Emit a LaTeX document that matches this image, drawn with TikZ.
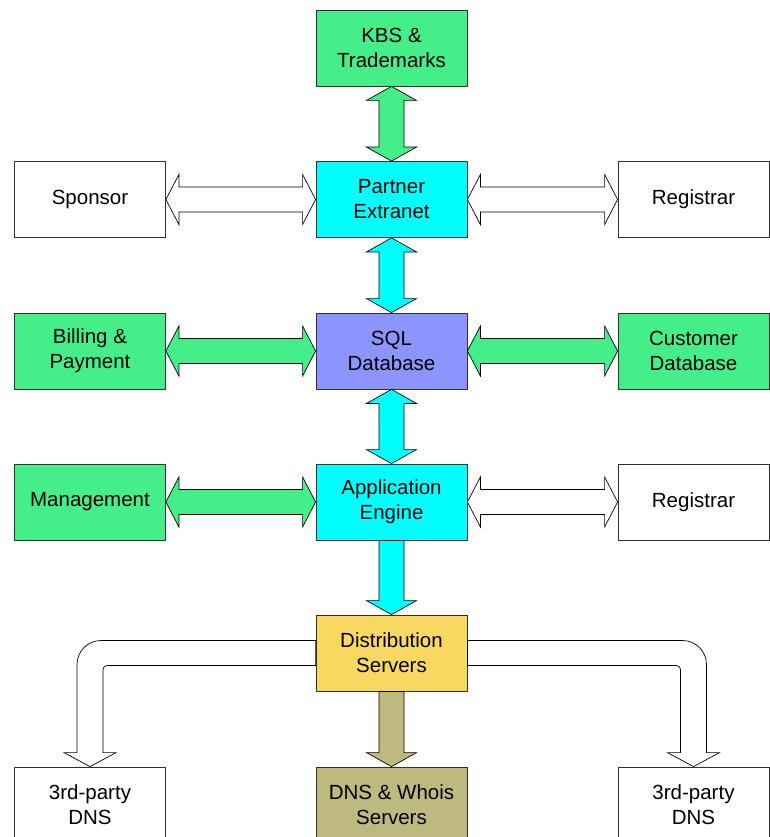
\documentclass[tikz,border=0pt]{standalone}
\usepackage{fontspec}
\setmainfont{Liberation Sans}
\usetikzlibrary{calc}
\definecolor{cgreen}{HTML}{44EE88}
\definecolor{ccyan}{HTML}{00FFFF}
\definecolor{csql}{HTML}{8C94FF}
\definecolor{cyellow}{HTML}{F8D860}
\definecolor{colive}{HTML}{BDB97F}
\definecolor{cline}{HTML}{303030}
\tikzset{
  box/.style={draw=cline, line width=0.8pt, minimum width=151pt, minimum height=76pt,
    inner sep=0pt, align=center, font=\fontsize{20.5}{25}\selectfont},
  arr/.style={draw=black, line width=0.7pt, line join=miter},
}
\newcommand\dblV[3]{%
  \filldraw[arr, fill=#3] (#1.south) -- ++(25,14) -- ++(-12.5,0) -- ($(#2.north)+(12.5,-14)$)
    -- ++(12.5,0) -- (#2.north) -- ++(-25,-14) -- ++(12.5,0) -- ($(#1.south)+(-12.5,14)$)
    -- ++(-12.5,0) -- cycle;}
\newcommand\dblH[3]{%
  \filldraw[arr, fill=#3] (#1.east) -- ++(13,-25) -- ++(0,12.5) -- ($(#2.west)+(-13,-12.5)$)
    -- ++(0,-12.5) -- (#2.west) -- ++(-13,25) -- ++(0,-12.5) -- ($(#1.east)+(13,12.5)$)
    -- ++(0,12.5) -- cycle;}
\newcommand\oneV[3]{%
  \filldraw[arr, fill=#3] ($(#1.south)+(-12.5,0)$) -- ($(#2.north)+(-12.5,-14)$) -- ++(-12.5,0)
    -- (#2.north) -- ++(25,-14) -- ++(-12.5,0) -- ($(#1.south)+(12.5,0)$) -- cycle;}
\begin{document}
\begin{tikzpicture}[x=1pt,y=-1pt]
\clip (0,0) rectangle (770,837);
\fill[white] (0,0) rectangle (770,837);
% nodes
\node[box, fill=cgreen] (kbs) at (391.5,48) {KBS \&\\Trademarks};
\node[box, fill=white] (sponsor) at (90,199.5) {Sponsor};
\node[box, fill=ccyan] (extranet) at (391.5,199.5) {Partner\\Extranet};
\node[box, fill=white] (reg1) at (693.5,199.5) {Registrar};
\node[box, fill=cgreen] (billing) at (90,351) {Billing \&\\Payment};
\node[box, fill=csql] (sql) at (391.5,351) {SQL\\Database};
\node[box, fill=cgreen] (cust) at (693.5,351) {Customer\\Database};
\node[box, fill=cgreen] (mgmt) at (90,502) {Management};
\node[box, fill=ccyan] (app) at (391.5,502) {Application\\Engine};
\node[box, fill=white] (reg2) at (693.5,502) {Registrar};
\node[box, fill=cyellow] (dist) at (391.5,653) {Distribution\\Servers};
\node[box, fill=white] (ldns) at (90,805) {3rd-party\\DNS};
\node[box, fill=colive] (whois) at (391.5,805) {DNS \& Whois\\Servers};
\node[box, fill=white] (rdns) at (693.5,805) {3rd-party\\DNS};
% connectors
\dblV{kbs}{extranet}{cgreen}
\dblV{extranet}{sql}{ccyan}
\dblV{sql}{app}{ccyan}
\dblH{sponsor}{extranet}{white}
\dblH{extranet}{reg1}{white}
\dblH{billing}{sql}{cgreen}
\dblH{sql}{cust}{cgreen}
\dblH{mgmt}{app}{cgreen}
\dblH{app}{reg2}{white}
\oneV{app}{dist}{ccyan}
\oneV{dist}{whois}{colive}
% bent arrows
\coordinate (la) at ($(dist.west)+(0,-12.5)$);
\coordinate (lb) at ($(dist.west)+(0,12.5)$);
\coordinate (lo) at ($(ldns.north)+(-13,0)$);
\coordinate (li) at ($(ldns.north)+(13,0)$);
\filldraw[arr, fill=white] (la) -- ($(la -| lo)+(24,0)$) .. controls +(-13.25,0) and +(0,-13.25) .. ($(la -| lo)+(0,24)$)
  -- ($(lo)+(0,-14)$) -- ++(-13,0) -- (ldns.north) -- ++(26,-14) -- ++(-13,0)
  -- ($(lb -| li)+(0,4)$) .. controls +(0,-2.2) and +(-2.2,0) .. ($(lb -| li)+(4,0)$) -- (lb) -- cycle;
\coordinate (ra) at ($(dist.east)+(0,-12.5)$);
\coordinate (rb) at ($(dist.east)+(0,12.5)$);
\coordinate (ro) at ($(rdns.north)+(13,0)$);
\coordinate (ri) at ($(rdns.north)+(-13,0)$);
\filldraw[arr, fill=white] (ra) -- ($(ra -| ro)+(-24,0)$) .. controls +(13.25,0) and +(0,-13.25) .. ($(ra -| ro)+(0,24)$)
  -- ($(ro)+(0,-14)$) -- ++(13,0) -- (rdns.north) -- ++(-26,-14) -- ++(13,0)
  -- ($(rb -| ri)+(0,4)$) .. controls +(0,-2.2) and +(2.2,0) .. ($(rb -| ri)+(-4,0)$) -- (rb) -- cycle;
\end{tikzpicture}
\end{document}
